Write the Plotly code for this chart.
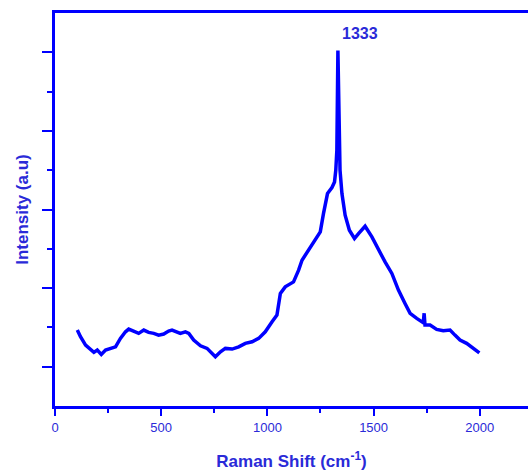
import plotly.graph_objects as go

raman_shift = [105, 120, 144, 167, 183, 199, 218, 238, 261, 285, 308, 332, 347, 371, 394,
               418, 441, 465, 488, 512, 535, 551, 575, 590, 614, 630, 653, 685, 716, 740,
               755, 779, 802, 834, 865, 896, 928, 959, 990, 1022, 1045, 1061, 1084, 1123,
               1147, 1163, 1194, 1233, 1249, 1264, 1283, 1304, 1316, 1322, 1327, 1332,
               1336, 1342, 1351, 1366, 1386, 1410, 1429, 1460, 1492, 1523, 1554, 1586,
               1617, 1648, 1672, 1703, 1727, 1734, 1738, 1742, 1766, 1797, 1828, 1860,
               1883, 1907, 1938, 1969, 1998]
intensity = [1.466, 1.381, 1.275, 1.212, 1.182, 1.212, 1.157, 1.212, 1.233, 1.253, 1.360,
             1.444, 1.478, 1.444, 1.424, 1.466, 1.436, 1.424, 1.402, 1.415, 1.453, 1.466,
             1.436, 1.424, 1.444, 1.424, 1.339, 1.266, 1.233, 1.170, 1.126, 1.190, 1.233,
             1.224, 1.253, 1.297, 1.317, 1.360, 1.444, 1.571, 1.656, 1.932, 2.016, 2.079,
             2.228, 2.355, 2.482, 2.631, 2.715, 2.948, 3.203, 3.279, 3.350, 3.499, 3.753,
             5.023, 4.388, 3.499, 3.203, 2.927, 2.736, 2.631, 2.694, 2.787, 2.651, 2.482,
             2.333, 2.186, 1.974, 1.805, 1.678, 1.614, 1.571, 1.560, 1.680, 1.529, 1.529,
             1.475, 1.457, 1.466, 1.402, 1.339, 1.297, 1.233, 1.177]

peak_label = "1333"
x_title = "Raman Shift (cm<sup>-1</sup>)"
y_title = "Intensity (a.u)"

BLUE = "#0000ff"
TXT = "#2a2ad8"
FONT = "Liberation Sans, Arial, sans-serif"

fig = go.Figure()
fig.add_trace(go.Scatter(x=raman_shift, y=intensity, mode="lines",
                         line=dict(color=BLUE, width=3.5), showlegend=False))

fig.add_annotation(x=1437, y=5.24, text="<b>" + peak_label + "</b>", showarrow=False,
                   font=dict(family=FONT, size=16, color=TXT))

fig.update_layout(
    width=528, height=472,
    margin=dict(l=55, r=0, t=13, b=66),
    paper_bgcolor="white", plot_bgcolor="white",
    font=dict(family=FONT, color=TXT),
    xaxis=dict(range=[0, 2227], tickvals=[0, 500, 1000, 1500, 2000], showgrid=False,
               zeroline=False, showline=True, linecolor=BLUE, linewidth=3, mirror=True,
               ticks="outside", ticklen=7, tickwidth=2, tickcolor=BLUE,
               minor=dict(dtick=250, tick0=0, ticks="outside", ticklen=4, tickwidth=2,
                          tickcolor=BLUE),
               tickfont=dict(size=13, color=TXT),
               title=dict(text="<b>" + x_title + "</b>", font=dict(size=17, color=TXT),
                          standoff=22)),
    yaxis=dict(range=[0.5, 5.5], tickvals=[1, 2, 3, 4, 5], showticklabels=False,
               showgrid=False, zeroline=False, showline=True, linecolor=BLUE, linewidth=3,
               ticks="outside", ticklen=10, tickwidth=2, tickcolor=BLUE,
               minor=dict(tickvals=[1.5, 2.5, 3.5, 4.5], ticks="outside", ticklen=5,
                          tickwidth=2, tickcolor=BLUE),
               title=dict(text="<b>" + y_title + "</b>", font=dict(size=17, color=TXT),
                          standoff=10)),
)

fig.write_html("out.html")
